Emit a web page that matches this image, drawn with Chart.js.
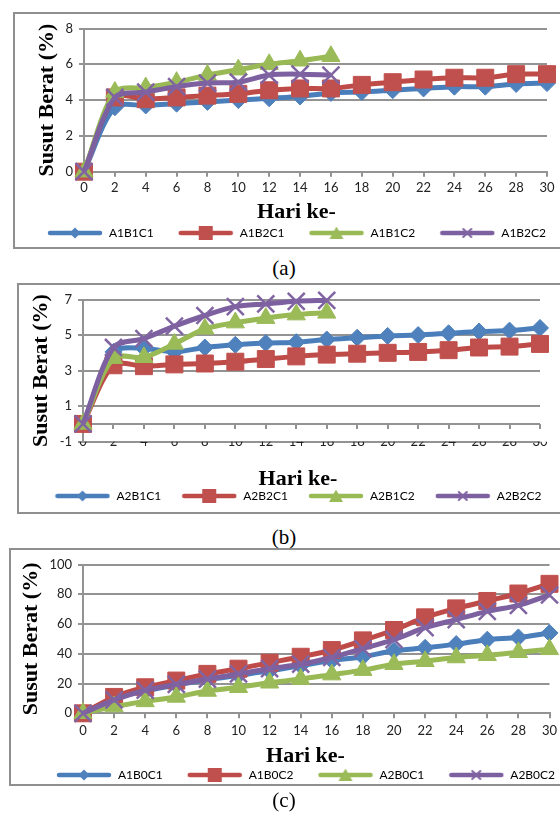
<!DOCTYPE html>
<html>
<head>
<meta charset="utf-8">
<script src="https://cdn.jsdelivr.net/npm/chart.js@4.4.1/dist/chart.umd.min.js"></script>
<style>
  html, body { margin:0; padding:0; background:#fff; overflow:hidden; }
  body { width:560px; height:813px; position:relative; }
  .box { position:absolute; border:2px solid #8f8f8f; box-sizing:border-box; width:620px; }
  .cv { position:absolute; left:0; }
  .cap { position:absolute; left:234px; width:100px; text-align:center; font:21px "Liberation Serif", serif; color:#000; line-height:24px; }
</style>
</head>
<body>
<div class="box" style="left:13px;top:12px;height:237px"></div>
<div class="box" style="left:17px;top:283px;height:231px"></div>
<div class="box" style="left:9px;top:548px;height:238px"></div>
<canvas id="chartA" class="cv"></canvas>
<canvas id="chartB" class="cv"></canvas>
<canvas id="chartC" class="cv"></canvas>
<div class="cap" style="top:256px">(a)</div>
<div class="cap" style="top:525px">(b)</div>
<div class="cap" style="top:788px">(c)</div>

<script>
// ===== data =====
const days = ['0','2','4','6','8','10','12','14','16','18','20','22','24','26','28','30'];

// (a)
const namesA = ['A1B1C1','A1B2C1','A1B1C2','A1B2C2'];
const A1B1C1 = [0, 3.6, 3.7, 3.8, 3.9, 4.0, 4.1, 4.2, 4.4, 4.45, 4.55, 4.65, 4.75, 4.75, 4.9, 4.95];
const A1B2C1 = [0, 4.15, 4.05, 4.15, 4.25, 4.35, 4.55, 4.65, 4.65, 4.85, 5.0, 5.15, 5.25, 5.25, 5.45, 5.45];
const A1B1C2 = [0, 4.45, 4.7, 5.0, 5.4, 5.7, 6.0, 6.2, 6.45];
const A1B2C2 = [0, 4.15, 4.45, 4.75, 4.95, 5.0, 5.4, 5.45, 5.4];
const yTicksA = [0, 8, 2];   // min, max, step

// (b)
const namesB = ['A2B1C1','A2B2C1','A2B1C2','A2B2C2'];
const A2B1C1 = [0, 4.05, 4.25, 4.05, 4.3, 4.45, 4.55, 4.6, 4.75, 4.85, 4.95, 5.0, 5.1, 5.2, 5.25, 5.4];
const A2B2C1 = [0, 3.3, 3.25, 3.35, 3.4, 3.5, 3.65, 3.8, 3.9, 3.95, 4.0, 4.05, 4.15, 4.3, 4.35, 4.5];
const A2B1C2 = [0, 3.7, 3.75, 4.5, 5.35, 5.7, 5.95, 6.15, 6.25];
const A2B2C2 = [0, 4.3, 4.8, 5.5, 6.1, 6.6, 6.75, 6.9, 6.95];
const yTicksB = [-1, 7, 2];

// (c)
const namesC = ['A1B0C1','A1B0C2','A2B0C1','A2B0C2'];
const A1B0C1 = [0, 10, 15, 19, 22.5, 25.5, 28.5, 32, 35.5, 38, 42, 44, 46.5, 49.5, 51, 54];
const A1B0C2 = [0, 11, 17.5, 22, 26.5, 30, 34, 38, 42.5, 49, 56, 64.5, 70.5, 75.5, 80.5, 87];
const A2B0C1 = [0, 4.5, 8, 11, 15, 17.5, 20.5, 23, 26, 29, 33, 35, 37.5, 39, 41, 43];
const A2B0C2 = [0, 9, 15.5, 19.5, 23, 26.5, 30, 33, 37.5, 43.5, 49.5, 57.5, 63, 68.5, 72.5, 79.5];
const yTicksC = [0, 100, 20];

// ===== styles (Excel 2007 palette) =====
const GRID = '#939393';
const STY = [
  {line:'#4A7EBB', fill:'#4F81BD', shape:'rectRot',  r:8.5, bw:1},
  {line:'#BE4B48', fill:'#C0504D', shape:'rect',     r:12,  bw:1},
  {line:'#98B954', fill:'#9BBB59', shape:'triangle', r:10.5,bw:1},
  {line:'#7D60A0', fill:'#8064A2', shape:'crossRot', r:12,  bw:2.5}
];
const TICKFONT = {family:'Lato', size:13, lineHeight:1.2};
const SERIF = {family:'Liberation Serif', size:22, weight:'bold', lineHeight:1};

// page positions of each panel
const LAY_A = {cTop:14,  chartTop:24.5, chartBottom:171.7, chartLeft:84, chartRight:547,   xLabelY:188, xTitleY:212, legendY:233, legendX:296.5, yTitleX:47, P:24};
const LAY_B = {cTop:285, chartTop:295,  chartBottom:441.7, chartLeft:83, chartRight:540,   xLabelY:442, xTitleY:479, legendY:496, legendX:298,   yTitleX:41, P:20, zeroAxis:true};
const LAY_C = {cTop:550, chartTop:563,  chartBottom:713.3, chartLeft:83, chartRight:549.5, xLabelY:731, xTitleY:756, legendY:775, legendX:305.5, yTitleX:31, P:24};

// legend glyph: line with marker in the middle, like Excel
function icon(s){
  const c = document.createElement('canvas'); c.width = 56; c.height = 16;
  const g = c.getContext('2d');
  g.strokeStyle = s.line; g.lineWidth = 4.5; g.lineCap = 'round';
  g.beginPath(); g.moveTo(3,8); g.lineTo(53,8); g.stroke();
  g.fillStyle = s.fill; g.strokeStyle = s.fill;
  g.beginPath();
  if(s.shape === 'rectRot'){ g.moveTo(28,2.5); g.lineTo(33.5,8); g.lineTo(28,13.5); g.lineTo(22.5,8); g.closePath(); g.fill(); }
  else if(s.shape === 'rect'){ g.fillRect(21,1,14,14); }
  else if(s.shape === 'triangle'){ g.moveTo(28,1.5); g.lineTo(35,14); g.lineTo(21,14); g.closePath(); g.fill(); }
  else { g.lineWidth = 2; g.moveTo(24,4); g.lineTo(32,12); g.moveTo(32,4); g.lineTo(24,12); g.stroke(); }
  return c;
}
const icons = STY.map(icon);

// horizontal axis crossing at 0 (panel b)
const zeroAxis = {
  id:'zeroAxis',
  beforeDatasetsDraw(chart){
    const {ctx, chartArea:a, scales:{x, y}} = chart;
    const y0 = Math.round(y.getPixelForValue(0));
    ctx.save();
    ctx.strokeStyle = GRID; ctx.lineWidth = 2;
    ctx.beginPath();
    ctx.moveTo(a.left, y0); ctx.lineTo(a.right, y0);
    x.ticks.forEach((t, i) => { const px = Math.round(x.getPixelForTick(i)); ctx.moveTo(px, y0); ctx.lineTo(px, y0 + 5); });
    ctx.stroke();
    ctx.restore();
  }
};

function build(id, L, names, series, yt){
  const cv = document.getElementById(id);
  const W = Math.round(2 * L.legendX);
  const H = Math.round(L.legendY + 16 - L.cTop);
  cv.width = W; cv.height = H;
  cv.style.width = W + 'px'; cv.style.height = H + 'px';
  cv.style.top = L.cTop + 'px';

  const legendY = L.cTop + H - 16;
  const legendTop = legendY - 6 - L.P;
  const titleTop = L.xTitleY - 11;
  const pb = legendTop - titleTop - 22;
  const xH = titleTop - L.chartBottom;
  const tickLen = L.zeroAxis ? 0 : 5;
  const xPad = L.xLabelY - L.chartBottom - tickLen - 7.8;

  return new Chart(cv, {
    type:'line',
    data:{
      labels: days,
      datasets: series.map((d, i) => ({
        label: names[i], data: d,
        borderColor: STY[i].line, backgroundColor: STY[i].fill, borderWidth: 5,
        tension: 0.3, clip: false, order: series.length - i,
        pointStyle: STY[i].shape, pointRadius: STY[i].r,
        pointBackgroundColor: STY[i].fill, pointBorderColor: STY[i].fill, pointBorderWidth: STY[i].bw
      }))
    },
    options:{
      responsive:false, animation:false, devicePixelRatio:1, events:[],
      layout:{ padding:{ top: L.chartTop - L.cTop, left:0, right:0, bottom:0 } },
      scales:{
        x:{
          type:'category',
          grid:{ display:true, drawOnChartArea:false, drawTicks: !L.zeroAxis, tickLength:5, color:GRID, lineWidth:2 },
          border:{ display: !L.zeroAxis, color:GRID, width:2 },
          ticks:{ font:TICKFONT, color:'#222', padding:xPad, maxRotation:0, autoSkip:false },
          afterFit(s){ s.height = xH; }
        },
        y:{
          min: yt[0], max: yt[1],
          ticks:{ stepSize: yt[2], font:TICKFONT, color:'#222', padding:6 },
          grid:{ color:GRID, lineWidth:2, tickLength:5 },
          border:{ color:GRID, width:2 },
          title:{ display:true, text:'Susut Berat (%)', font:SERIF, color:'#000', padding:{ top: L.yTitleX - 11, bottom:0 } },
          afterFit(s){ s.width = L.chartLeft; }
        },
        yR:{
          position:'right', display:true,
          grid:{ display:false }, border:{ display:false }, ticks:{ display:false },
          afterFit(s){ s.width = W - L.chartRight; }
        }
      },
      plugins:{
        legend:{
          position:'bottom',
          labels:{
            usePointStyle:true, pointStyleWidth:56, padding:L.P,
            font:{ family:'Lato', size:12 }, color:'#222',
            generateLabels: () => names.map((n, i) => ({
              text:n, pointStyle:icons[i], fillStyle:'rgba(0,0,0,0)', strokeStyle:'rgba(0,0,0,0)',
              lineWidth:0, hidden:false, datasetIndex:i
            }))
          }
        },
        title:{ display:true, position:'bottom', weight:500, text:'Hari ke-', font:SERIF, color:'#000', padding:{ top:0, bottom:pb } },
        tooltip:{ enabled:false }
      }
    },
    plugins: L.zeroAxis ? [zeroAxis] : []
  });
}

build('chartA', LAY_A, namesA, [A1B1C1, A1B2C1, A1B1C2, A1B2C2], yTicksA);
build('chartB', LAY_B, namesB, [A2B1C1, A2B2C1, A2B1C2, A2B2C2], yTicksB);
build('chartC', LAY_C, namesC, [A1B0C1, A1B0C2, A2B0C1, A2B0C2], yTicksC);
</script>
</body>
</html>
